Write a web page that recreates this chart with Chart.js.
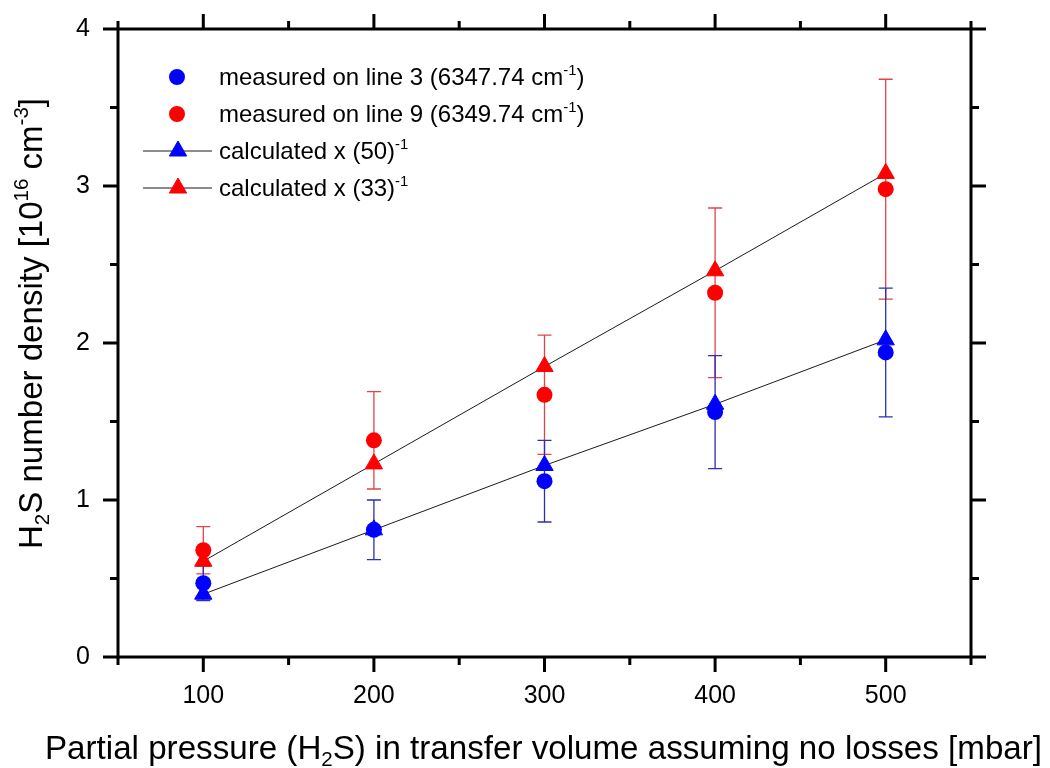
<!DOCTYPE html>
<html>
<head>
<meta charset="utf-8">
<script src="https://cdn.jsdelivr.net/npm/chart.js@4.4.0/dist/chart.umd.min.js"></script>
<style>
  html, body { margin: 0; padding: 0; background: #fff; }
  #wrap { width: 1050px; height: 768px; }
</style>
</head>
<body>
<div id="wrap"><canvas id="chart" width="1050" height="768"></canvas></div>
<script>
// values (density in 1e16 cm^-3)
const pressures = [100, 200, 300, 400, 500];
const measuredLine3 = [0.47, 0.81, 1.12, 1.56, 1.94];
const errorLine3 = [0.11, 0.19, 0.26, 0.36, 0.41];
const measuredLine9 = [0.68, 1.38, 1.67, 2.32, 2.98];
const errorLine9 = [0.15, 0.31, 0.38, 0.54, 0.70];
const calculated50 = [0.40, 0.81, 1.22, 1.61, 2.02];
const calculated33 = [0.61, 1.23, 1.85, 2.46, 3.08];

const seriesNames = [
    'measured on line 3 (6347.74 cm^{-1})',
    'measured on line 9 (6349.74 cm^{-1})',
    'calculated x (50)^{-1}',
    'calculated x (33)^{-1}'
];
const xTitle = 'Partial pressure (H_{2}S) in transfer volume assuming no losses [mbar]';
const yTitle = 'H_{2}S number density [10^{16} cm^{-3}]';
const xMajorTicks = [100, 200, 300, 400, 500];
const yMajorTicks = [0, 1, 2, 3, 4];

const BLUE = '#0000ff';
const RED = '#ff0000';
const FONT = '"Liberation Sans", Arial, sans-serif';

// ^{..} = superscript, _{..} = subscript
function splitRich(text) {
    const parts = [];
    const re = /([_^])\{([^}]*)\}/g;
    let last = 0, m;
    while ((m = re.exec(text)) !== null) {
        if (m.index > last) parts.push({ t: text.slice(last, m.index), k: '' });
        parts.push({ t: m[2], k: m[1] });
        last = re.lastIndex;
    }
    if (last < text.length) parts.push({ t: text.slice(last), k: '' });
    return parts;
}

function richWidth(ctx, text, size) {
    let w = 0;
    splitRich(text).forEach(p => {
        ctx.font = (p.k ? size * 0.62 : size) + 'px ' + FONT;
        w += ctx.measureText(p.t).width;
    });
    return w;
}

function drawRich(ctx, text, x, y, size) {
    splitRich(text).forEach(p => {
        const s = p.k ? size * 0.62 : size;
        ctx.font = s + 'px ' + FONT;
        let dy = 0;
        if (p.k === '^') dy = -size * 0.42;
        if (p.k === '_') dy = size * 0.2;
        ctx.fillText(p.t, x, y + dy);
        x += ctx.measureText(p.t).width;
    });
}

const toPoints = ys => pressures.map((p, i) => ({ x: p, y: ys[i] }));

// error bars under the symbols
const errorBars = {
    id: 'errorBars',
    beforeDatasetsDraw(chart) {
        const { ctx, scales: { x, y } } = chart;
        const sets = [
            { vals: measuredLine9, errs: errorLine9, color: 'rgb(225,70,70)' },
            { vals: measuredLine3, errs: errorLine3, color: 'rgb(45,45,185)' }
        ];
        ctx.save();
        ctx.lineWidth = 1.3;
        sets.forEach(s => {
            ctx.strokeStyle = s.color;
            ctx.beginPath();
            pressures.forEach((p, i) => {
                const px = x.getPixelForValue(p);
                const top = y.getPixelForValue(s.vals[i] + s.errs[i]);
                const bot = y.getPixelForValue(s.vals[i] - s.errs[i]);
                ctx.moveTo(px, top); ctx.lineTo(px, bot);
                ctx.moveTo(px - 7, top); ctx.lineTo(px + 7, top);
                ctx.moveTo(px - 7, bot); ctx.lineTo(px + 7, bot);
            });
            ctx.stroke();
        });
        ctx.restore();
    }
};

// box with outward ticks on all four sides, titles and the legend
const decorations = {
    id: 'decorations',
    afterDraw(chart) {
        const { ctx, chartArea: a, scales: { x, y } } = chart;
        ctx.save();
        ctx.strokeStyle = '#000';
        ctx.lineWidth = 3;
        ctx.beginPath();
        x.ticks.forEach(t => {
            const px = x.getPixelForValue(t.value);
            const len = xMajorTicks.includes(t.value) ? 15 : 8;
            ctx.moveTo(px, a.bottom); ctx.lineTo(px, a.bottom + len);
            ctx.moveTo(px, a.top); ctx.lineTo(px, a.top - len);
        });
        y.ticks.forEach(t => {
            const py = y.getPixelForValue(t.value);
            const len = yMajorTicks.includes(t.value) ? 15 : 8;
            ctx.moveTo(a.left, py); ctx.lineTo(a.left - len, py);
            ctx.moveTo(a.right, py); ctx.lineTo(a.right + len, py);
        });
        ctx.stroke();
        ctx.strokeRect(a.left, a.top, a.right - a.left, a.bottom - a.top);

        // axis titles
        ctx.fillStyle = '#000';
        ctx.textBaseline = 'alphabetic';
        ctx.textAlign = 'left';
        let w = richWidth(ctx, xTitle, 33);
        ctx.save();
        ctx.translate(543.5, 759);
        ctx.scale(997 / w, 1);
        drawRich(ctx, xTitle, -w / 2, 0, 33);
        ctx.restore();

        w = richWidth(ctx, yTitle, 33);
        ctx.save();
        ctx.translate(42, 323.5);
        ctx.rotate(-Math.PI / 2);
        ctx.scale(451 / w, 1);
        drawRich(ctx, yTitle, -w / 2, 0, 33);
        ctx.restore();

        // legend
        const metas = chart.data.datasets;
        seriesNames.forEach((name, i) => {
            const ry = 77 + i * 37;
            const ds = metas[i];
            if (ds.showLine) {
                ctx.strokeStyle = ds.borderColor;
                ctx.lineWidth = 1;
                ctx.beginPath();
                ctx.moveTo(143, ry); ctx.lineTo(212, ry);
                ctx.stroke();
                ctx.fillStyle = ds.pointBackgroundColor;
                ctx.strokeStyle = ds.pointBackgroundColor;
                Chart.helpers.drawPoint(ctx, { pointStyle: 'triangle', radius: 10, borderWidth: 1, rotation: 0 }, 178, ry);
            } else {
                ctx.fillStyle = ds.backgroundColor;
                ctx.strokeStyle = ds.backgroundColor;
                Chart.helpers.drawPoint(ctx, { pointStyle: 'circle', radius: 6.5, borderWidth: 1, rotation: 0 }, 177, ry);
            }
            ctx.fillStyle = '#000';
            drawRich(ctx, name, 219, ry + 8, 24);
        });
        ctx.restore();
    }
};

new Chart(document.getElementById('chart'), {
    type: 'line',
    data: {
        datasets: [
            {
                label: seriesNames[0], data: toPoints(measuredLine3), showLine: false,
                pointStyle: 'circle', pointRadius: 8, backgroundColor: BLUE, borderColor: BLUE,
                pointBorderWidth: 0, order: 0
            },
            {
                label: seriesNames[1], data: toPoints(measuredLine9), showLine: false,
                pointStyle: 'circle', pointRadius: 8, backgroundColor: RED, borderColor: RED,
                pointBorderWidth: 0, order: 0
            },
            {
                label: seriesNames[2], data: toPoints(calculated50), showLine: true,
                borderColor: '#1a1a1a', borderWidth: 1, tension: 0,
                pointStyle: 'triangle', pointRadius: 10, pointBackgroundColor: BLUE,
                pointBorderColor: BLUE, pointBorderWidth: 1, order: 1
            },
            {
                label: seriesNames[3], data: toPoints(calculated33), showLine: true,
                borderColor: '#1a1a1a', borderWidth: 1, tension: 0,
                pointStyle: 'triangle', pointRadius: 10, pointBackgroundColor: RED,
                pointBorderColor: RED, pointBorderWidth: 1, order: 1
            }
        ]
    },
    plugins: [errorBars, decorations],
    options: {
        responsive: false,
        animation: false,
        events: [],
        layout: { padding: { top: 29, right: 79, left: 0, bottom: 0 } },
        plugins: {
            legend: { display: false },
            tooltip: { enabled: false }
        },
        scales: {
            x: {
                type: 'linear', min: 50, max: 550,
                grid: { display: false, drawTicks: false },
                border: { display: false },
                ticks: {
                    stepSize: 50, autoSkip: false, maxRotation: 0, padding: 24,
                    color: '#000', font: { family: FONT, size: 25 },
                    callback: v => xMajorTicks.includes(v) ? String(v) : ''
                },
                afterFit: s => { s.height = 111; s.paddingLeft = 0; s.paddingRight = 0; }
            },
            y: {
                min: 0, max: 4,
                grid: { display: false, drawTicks: false },
                border: { display: false },
                ticks: {
                    stepSize: 0.5, autoSkip: false, padding: 28,
                    color: '#000', font: { family: FONT, size: 25 },
                    callback: v => yMajorTicks.includes(v) ? String(v) : ''
                },
                afterFit: s => { s.width = 118; s.paddingTop = 0; s.paddingBottom = 0; }
            }
        }
    }
});
</script>
</body>
</html>
